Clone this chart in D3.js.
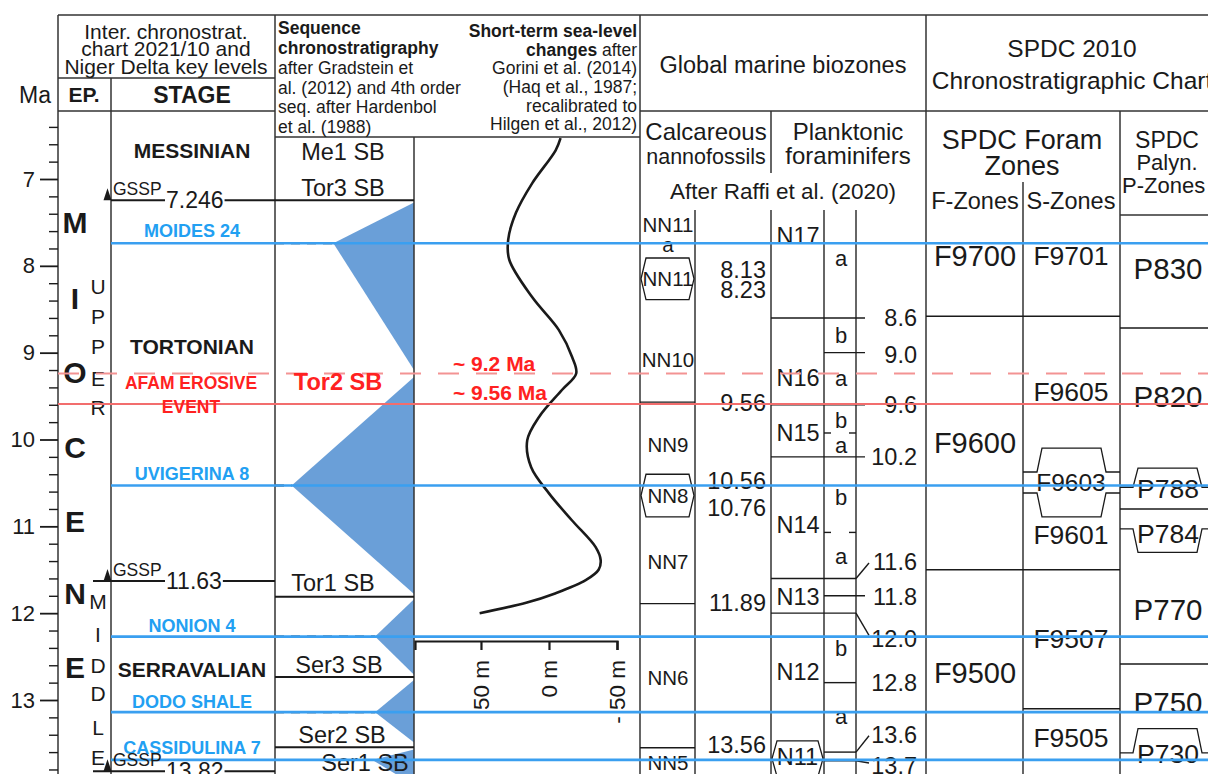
<!DOCTYPE html>
<html><head><meta charset="utf-8">
<script src="https://cdn.jsdelivr.net/npm/d3@7/dist/d3.min.js"></script>
<style>
html,body{margin:0;padding:0;background:#fff;}
svg{display:block;font-family:"Liberation Sans",Arial,Helvetica,sans-serif;}
</style></head><body>
<svg id="chart" width="1208" height="774"></svg>
<script>
// ================= DATA =================
const majorTicks = [7, 8, 9, 10, 11, 12, 13];
const minorTicks = [6.4, 6.6, 6.8, 7.2, 7.4, 7.6, 7.8, 8.2, 8.4, 8.6, 8.8, 9.2, 9.4, 9.6, 9.8,
  10.2, 10.4, 10.6, 10.8, 11.2, 11.4, 11.6, 11.8, 12.2, 12.4, 12.6, 12.8, 13.2, 13.4, 13.6, 13.8];

const epochLetters = [
  {t:"M", ma:7.50}, {t:"I", ma:8.38}, {t:"O", ma:9.23}, {t:"C", ma:10.09},
  {t:"E", ma:10.95}, {t:"N", ma:11.77}, {t:"E", ma:12.63}];
const subEpochLetters = [
  {t:"U", ma:8.245}, {t:"P", ma:8.59}, {t:"P", ma:8.935}, {t:"E", ma:9.30}, {t:"R", ma:9.63},
  {t:"M", ma:11.87}, {t:"I", ma:12.25}, {t:"D", ma:12.60}, {t:"D", ma:12.93}, {t:"L", ma:13.32}, {t:"E", ma:13.66}];
const stages = [{name:"MESSINIAN", ma:6.67}, {name:"TORTONIAN", ma:8.93}, {name:"SERRAVALIAN", ma:12.65}];
const gsspLevels = [
  {age:"7.246", ma:7.246, subEpoch:false, seqBoundary:true},
  {age:"11.63", ma:11.63, subEpoch:true, seqBoundary:false},
  {age:"13.82", ma:13.82, subEpoch:true, seqBoundary:false}];
const keyLevels = [
  {name:"MOIDES 24", ma:7.74, labelMa:7.60},
  {name:"UVIGERINA 8", ma:10.53, labelMa:10.39},
  {name:"NONION 4", ma:12.27, labelMa:12.14},
  {name:"DODO SHALE", ma:13.14, labelMa:13.02},
  {name:"CASSIDULINA 7", ma:13.69, labelMa:13.55}];
const erosiveDashedMa = 9.24;
const erosiveSolidMa = 9.59;
const erosiveLabels = [{t:"AFAM EROSIVE", ma:9.35}, {t:"EVENT", ma:9.63}];
const erosiveAges = [{t:"~ 9.2 Ma", ma:9.13}, {t:"~ 9.56 Ma", ma:9.46}];
const tor2Label = {t:"Tor2 SB", ma:9.33};

// sequence wedges: top / apex / bottom (Ma) and relative apex depth
const seqWedges = [
  {top:7.27, apex:7.74, bottom:9.20, depth:0.58},
  {top:9.28, apex:10.53, bottom:11.78, depth:0.88},
  {top:11.84, apex:12.27, bottom:12.71, depth:0.28},
  {top:12.77, apex:13.14, bottom:13.49, depth:0.28},
  {top:13.57, apex:13.69, bottom:13.98, depth:0.30}];
const seqBoundaries = [11.81, 12.735, 13.545];
const seqLabels = [
  {t:"Me1 SB", ma:6.69, dx:0}, {t:"Tor3 SB", ma:7.10, dx:0}, {t:"Tor1 SB", ma:11.65, dx:-10},
  {t:"Ser3 SB", ma:12.60, dx:-4}, {t:"Ser2 SB", ma:13.40, dx:-1}, {t:"Ser1 SB", ma:13.72, dx:22}];

// short-term sea level (Ma, metres)
const seaLevelMa = [6.53, 6.67, 7.05, 7.39, 7.70, 7.93, 8.36, 8.74, 9.05, 9.24, 9.43, 9.74, 10.01, 10.32, 10.62, 10.93, 11.24, 11.39, 11.50, 11.62, 11.77, 11.88, 12.0];
const seaLevelM  = [-8.5, -4.9, 12.4, 24.3, 30.0, 29.2, 12.4, -7.3, -17, -20, -9.5, 7.3, 16.0, 13.1, 0, -16.8, -34.3, -38, -36.5, -27, -5, 16.8, 51];
const seaTicks = [50, 0, -50];

// calcareous nannofossils
const nnLabels = [{t:"NN11", ma:7.53}, {t:"a", ma:7.76}, {t:"NN10", ma:9.08}, {t:"NN9", ma:10.06},
  {t:"NN7", ma:11.41}, {t:"NN6", ma:12.75}, {t:"NN5", ma:13.72}];
const nnHexes = [{t:"NN11", top:7.91, bottom:8.39}, {t:"NN8", top:10.40, bottom:10.89}];
const nnBoundaries = [9.57, 11.89, 13.55];
const nnAges = [{t:"8.13", ma:8.05}, {t:"8.23", ma:8.28}, {t:"9.56", ma:9.58}, {t:"10.56", ma:10.48},
  {t:"10.76", ma:10.79}, {t:"11.89", ma:11.88}, {t:"13.56", ma:13.52}];

// planktonic foraminifers
const pfZones = [{t:"N17", ma:7.65}, {t:"N16", ma:9.29}, {t:"N15", ma:9.925}, {t:"N14", ma:10.98},
  {t:"N13", ma:11.81}, {t:"N12", ma:12.68}];
const pfHexes = [{t:"N11", top:13.47, bottom:13.88}];
const pfSubZones = [{t:"a", ma:7.91}, {t:"b", ma:8.80}, {t:"a", ma:9.29}, {t:"b", ma:9.78}, {t:"a", ma:10.07},
  {t:"b", ma:10.66}, {t:"a", ma:11.35}, {t:"b", ma:12.40}, {t:"a", ma:13.19}];
const pfSubDashes = [9.925, 11.07];
const pfBoundaries = [
  {ma:8.6,  full:true,  label:"8.6",  labelMa:8.60, slant:false},
  {ma:9.0,  full:false, label:"9.0",  labelMa:9.03, slant:false},
  {ma:9.6,  full:true,  label:"9.6",  labelMa:9.60, slant:false},
  {ma:10.2, full:true,  label:"10.2", labelMa:10.20, slant:false},
  {ma:11.6, full:true,  label:"11.6", labelMa:11.41, slant:true},
  {ma:11.8, full:false, label:"11.8", labelMa:11.81, slant:false},
  {ma:12.0, full:true,  label:"12.0", labelMa:12.29, slant:true},
  {ma:12.8, full:false, label:"12.8", labelMa:12.80, slant:false},
  {ma:13.6, full:false, label:"13.6", labelMa:13.40, slant:true},
  {ma:13.7, full:false, label:"13.7", labelMa:13.76, slant:true}];

// SPDC 2010 zones
const fZones = [{t:"F9700", ma:7.88}, {t:"F9600", ma:10.04}, {t:"F9500", ma:12.69}];
const fBoundaries = [8.58, 11.50];
const sZones = [{t:"F9701", ma:7.88, big:true}, {t:"F9605", ma:9.45, big:true}, {t:"F9603", ma:10.49, big:false},
  {t:"F9601", ma:11.10, big:true}, {t:"F9507", ma:12.29, big:true}, {t:"F9505", ma:13.43, big:true}];
const sBoundaries = [13.10];
const sCaps = [{line:10.374, edge:10.10}, {line:10.616, edge:10.89}];
const pZones = [{t:"P830", ma:8.03, big:true}, {t:"P820", ma:9.51, big:true}, {t:"P788", ma:10.57, big:false},
  {t:"P784", ma:11.09, big:false}, {t:"P770", ma:11.96, big:true}, {t:"P750", ma:13.03, big:true},
  {t:"P730", ma:13.62, big:false}];
const pBoundaries = [8.716, 10.80, 12.585];
const pCaps = [{line:10.55, edge:10.33}, {line:11.03, edge:11.30}, {line:13.61, edge:13.33}];

// ================= LAYOUT =================
const C = {left:58, ep:111, subEp:93, seq:275, sea:414, bio:640, nnAge:695, pf:771, pfSub:824, pfVal:856,
  spdc:926, sZ:1023, pZ:1120, right:1215};
const TOP = 15, ROW1 = 78, HDR = 111, SEQHDR = 137, BIOTOP = 210, BOTTOM = 774, RIGHT = 1208;
const BLACK = "#1a1a1a", LINE = "#333";
const BLUE_LINE = "#3a9ff0", BLUE_TXT = "#22a0f2", RED = "#ff2121";

const svg = d3.select("#chart");
const y = d3.scaleLinear().domain([7, 13]).range([179, 700]);
const depthX = d3.scaleLinear().domain([0, 1]).range([C.sea, C.seq]);
const sx = d3.scaleLinear().domain([98.5, -50]).range([415, 617]);

const gWedge = svg.append("g"), gGrid = svg.append("g"), gZone = svg.append("g"),
      gText = svg.append("g"), gKey = svg.append("g"), gTop = svg.append("g");

function line(g, x1, y1, x2, y2, o = {}) {
  return g.append("line").attr("x1", x1).attr("y1", y1).attr("x2", x2).attr("y2", y2)
    .attr("stroke", o.stroke || LINE).attr("stroke-width", o.w || 1.4)
    .attr("stroke-dasharray", o.dash || null);
}
function text(g, x, yy, str, o = {}) {
  const t = g.append("text").attr("x", x).attr("y", yy).attr("dy", o.dy || "0.35em")
    .attr("text-anchor", o.anchor || "middle").attr("font-size", o.size || 20)
    .attr("font-weight", o.bold ? "bold" : "normal").attr("fill", o.fill || BLACK);
  if (str !== null) t.text(str);
  return t;
}
const poly = d3.line();
function hexPts(x0, x1, t, b, ins) { const m = (t + b) / 2; return [[x0+ins,t],[x1-ins,t],[x1,m],[x1-ins,b],[x0+ins,b],[x0,m]]; }
function capPts(x0, x1, ln, edge, i1, i2) { return [[x0,ln],[x0+i1,ln],[x0+i2,edge],[x1-i2,edge],[x1-i1,ln],[x1,ln]]; }

// ---------- wedges (sequence column) ----------
gWedge.selectAll("path").data(seqWedges).join("path")
  .attr("d", d => poly([[C.sea, y(d.top)], [depthX(d.depth), y(d.apex)], [C.sea, y(d.bottom)]]) + "Z")
  .attr("fill", "#6a9fd8");
gWedge.selectAll("line").data(seqWedges).join("line")
  .attr("x1", C.seq).attr("x2", d => depthX(d.depth)).attr("y1", d => y(d.apex)).attr("y2", d => y(d.apex))
  .attr("stroke", "#222").attr("stroke-width", 2).attr("stroke-dasharray", "9,7");

// ---------- frame / grid ----------
[[C.left, TOP, RIGHT, TOP], [C.left, TOP, C.left, BOTTOM], [C.left, ROW1, C.seq, ROW1], [C.left, HDR, C.seq, HDR],
 [C.ep, ROW1, C.ep, BOTTOM], [C.seq, TOP, C.seq, BOTTOM], [C.seq, SEQHDR, C.bio, SEQHDR], [C.sea, SEQHDR, C.sea, BOTTOM],
 [C.bio, TOP, C.bio, BOTTOM], [C.bio, HDR, RIGHT, HDR], [C.spdc, TOP, C.spdc, BOTTOM],
 [C.pf, HDR, C.pf, 173], [C.pf, BIOTOP, C.pf, BOTTOM], [C.nnAge, BIOTOP, C.nnAge, BOTTOM],
 [C.pfSub, BIOTOP, C.pfSub, BOTTOM], [C.pfVal, BIOTOP, C.pfVal, BOTTOM], [C.sZ, 182, C.sZ, BOTTOM],
 [C.pZ, HDR, C.pZ, BOTTOM], [C.pZ, 215, RIGHT, 215]
].forEach(a => line(gGrid, a[0], a[1], a[2], a[3], {w: 1.5}));

// ---------- Ma axis ----------
const axMaj = svg.append("g").attr("transform", `translate(${C.left},0)`)
  .call(d3.axisLeft(y).tickValues(majorTicks).tickSize(18).tickPadding(5).tickFormat(d3.format("d")));
axMaj.select(".domain").remove();
axMaj.selectAll("line").attr("stroke", BLACK).attr("stroke-width", 1.8);
axMaj.selectAll("text").attr("font-size", 22).attr("fill", BLACK);
axMaj.attr("font-family", null);
const axMin = svg.append("g").attr("transform", `translate(${C.left},0)`)
  .call(d3.axisLeft(y).tickValues(minorTicks).tickSize(9).tickFormat(""));
axMin.select(".domain").remove();
axMin.selectAll("line").attr("stroke", BLACK).attr("stroke-width", 1.4);

// ---------- headers ----------
["Inter. chronostrat.", "chart 2021/10 and", "Niger Delta key levels"].forEach((s, i) =>
  text(gText, 166, 31.5 + i * 17.5, s, {size: 21}));
text(gText, 35, 95, "Ma", {size: 23});
text(gText, 84, 95, "EP.", {size: 21, bold: true});
text(gText, 192, 95, "STAGE", {size: 23, bold: true});

const seqHdr = [["Sequence", true], ["chronostratigraphy", true], ["after Gradstein et", false],
  ["al. (2012) and 4th order", false], ["seq. after Hardenbol", false], ["et al. (1988)", false]];
const seqHdrY = [28, 48, 68, 88, 107, 127];
seqHdr.forEach((d, i) => text(gText, 278, seqHdrY[i], d[0], {size: 17.5, bold: d[1], anchor: "start"}));
const seaHdrY = [31, 50, 68, 87, 106, 124];
text(gText, 637, seaHdrY[0], "Short-term sea-level", {size: 17.5, bold: true, anchor: "end"});
const ch = text(gText, 637, seaHdrY[1], null, {size: 17.5, anchor: "end"});
ch.append("tspan").attr("font-weight", "bold").text("changes");
ch.append("tspan").text(" after");
["Gorini et al. (2014)", "(Haq et al., 1987;", "recalibrated to", "Hilgen et al., 2012)"].forEach((s, i) =>
  text(gText, 637, seaHdrY[i + 2], s, {size: 17.5, anchor: "end"}));

text(gText, 783, 65, "Global marine biozones", {size: 23.5});
text(gText, 1072, 48, "SPDC 2010", {size: 24.5});
text(gText, 1072, 80, "Chronostratigraphic Chart", {size: 24.5});
text(gText, 706, 132, "Calcareous", {size: 24});
text(gText, 706, 156, "nannofossils", {size: 21.5});
text(gText, 848, 132, "Planktonic", {size: 24});
text(gText, 848, 156, "foraminifers", {size: 24});
text(gText, 783, 191, "After Raffi et al. (2020)", {size: 22.5});
text(gText, 1022, 140, "SPDC Foram", {size: 27});
text(gText, 1022, 166, "Zones", {size: 27});
text(gText, 975, 201, "F-Zones", {size: 23.5});
text(gText, 1071, 201, "S-Zones", {size: 23.5});
text(gText, 1167, 140, "SPDC", {size: 23});
text(gText, 1167, 162, "Palyn.", {size: 22});
text(gText, 1122, 185, "P-Zones", {size: 22, anchor: "start"});

// ---------- epoch / stage ----------
gText.selectAll(".ep").data(epochLetters).join("text").attr("class", "ep")
  .attr("x", 75).attr("y", d => y(d.ma)).attr("dy", "0.35em").attr("text-anchor", "middle")
  .attr("font-size", 30).attr("font-weight", "bold").attr("fill", BLACK).text(d => d.t);
gText.selectAll(".sep").data(subEpochLetters).join("text").attr("class", "sep")
  .attr("x", 98).attr("y", d => y(d.ma)).attr("dy", "0.35em").attr("text-anchor", "middle")
  .attr("font-size", 21).attr("fill", BLACK).text(d => d.t);
stages.forEach(d => text(gText, 192, y(d.ma), d.name, {size: 21, bold: true}));

// ---------- sequence labels & boundaries ----------
seqBoundaries.forEach(m => line(gZone, C.seq, y(m), C.sea, y(m), {stroke: BLACK, w: 2}));
seqLabels.forEach(d => text(gText, 343 + d.dx, y(d.ma), d.t, {size: 23.5}));

// ---------- sea level ----------
const seaPts = seaLevelMa.map((m, i) => [sx(seaLevelM[i]), y(m)]);
gZone.append("path").attr("d", d3.line().curve(d3.curveCatmullRom.alpha(0.5))(seaPts))
  .attr("fill", "none").attr("stroke", BLACK).attr("stroke-width", 2.6);
const seaAx = gZone.append("g").attr("transform", "translate(0,641)")
  .call(d3.axisBottom(sx).tickValues(seaTicks).tickSize(9).tickSizeOuter(9)
    .tickFormat(d => d < 0 ? "- " + Math.abs(d) + " m" : d + " m"));
seaAx.attr("font-family", null);
seaAx.select(".domain").attr("stroke", BLACK).attr("stroke-width", 2.2);
seaAx.selectAll("line").attr("stroke", BLACK).attr("stroke-width", 2.2);
seaAx.selectAll("text").attr("transform", "rotate(-90)").attr("x", -19).attr("y", 0).attr("dy", "0.35em")
  .attr("text-anchor", "end").attr("font-size", 22.5).attr("fill", BLACK);

// ---------- nannofossils ----------
const NNC = (C.bio + C.nnAge) / 2 + 0.5;
nnBoundaries.forEach(m => line(gZone, C.bio, y(m), C.nnAge, y(m), {stroke: BLACK}));
nnHexes.forEach(d => {
  gZone.append("path").attr("d", poly(hexPts(C.bio + 1, C.nnAge - 1, y(d.top), y(d.bottom), 5)) + "Z")
    .attr("fill", "#fff").attr("stroke", BLACK).attr("stroke-width", 1.3);
  text(gText, NNC, (y(d.top) + y(d.bottom)) / 2, d.t, {size: 20.5});
});
nnLabels.forEach(d => text(gText, NNC, y(d.ma), d.t, {size: 20.5}));
nnAges.forEach(d => text(gText, 766, y(d.ma), d.t, {size: 23.5, anchor: "end"}));

// ---------- planktonic forams ----------
pfBoundaries.forEach(d => {
  const yy = y(d.ma), x0 = d.full ? C.pf : C.pfSub;
  if (d.slant) {
    line(gZone, x0, yy, C.pfVal, yy, {stroke: BLACK});
    const ly = y(d.labelMa) + (d.labelMa < d.ma ? 1 : -3);
    line(gZone, C.pfVal, yy, 869, ly, {stroke: BLACK});
  } else {
    line(gZone, x0, yy, d.ma === 12.8 ? C.pfVal : 865, yy, {stroke: BLACK});
  }
  text(gText, 917, y(d.labelMa), d.label, {size: 23.5, anchor: "end"});
});
pfSubDashes.forEach(m => {
  line(gZone, C.pfSub, y(m), C.pfSub + 7, y(m), {stroke: BLACK});
  line(gZone, C.pfVal - 7, y(m), C.pfVal, y(m), {stroke: BLACK});
});
pfHexes.forEach(d => {
  gZone.append("path").attr("d", poly(hexPts(C.pf + 1, C.pfSub - 1, y(d.top), y(d.bottom), 5)) + "Z")
    .attr("fill", "#fff").attr("stroke", BLACK).attr("stroke-width", 1.3);
  text(gText, (C.pf + C.pfSub) / 2, (y(d.top) + y(d.bottom)) / 2 - 2, d.t, {size: 23.5});
});
pfZones.forEach(d => text(gText, (C.pf + C.pfSub) / 2 + 0.5, y(d.ma), d.t, {size: 23.5}));
pfSubZones.forEach(d => text(gText, 841, y(d.ma), d.t, {size: 22}));

// ---------- SPDC ----------
fBoundaries.forEach(m => line(gZone, C.spdc, y(m), C.pZ, y(m), {stroke: BLACK}));
sBoundaries.forEach(m => line(gZone, C.sZ, y(m), C.pZ, y(m), {stroke: BLACK}));
pBoundaries.forEach(m => line(gZone, C.pZ, y(m), C.right, y(m), {stroke: BLACK}));
sCaps.forEach(d => gZone.append("path").attr("d", poly(capPts(C.sZ, C.pZ, y(d.line), y(d.edge), 14, 19)))
  .attr("fill", "none").attr("stroke", BLACK).attr("stroke-width", 1.3));
pCaps.forEach(d => gZone.append("path").attr("d", poly(capPts(C.pZ, C.right, y(d.line), y(d.edge), 13, 18)))
  .attr("fill", "none").attr("stroke", BLACK).attr("stroke-width", 1.3));
fZones.forEach(d => text(gText, 975, y(d.ma), d.t, {size: 29}));
sZones.forEach(d => text(gText, 1071, y(d.ma), d.t, {size: d.big ? 26.5 : 24.5}));
pZones.forEach(d => text(gText, 1168, y(d.ma), d.t, {size: d.big ? 29.5 : 26.5}));

// ---------- key levels (blue) ----------
keyLevels.forEach(d => {
  line(gKey, C.ep, y(d.ma), RIGHT, y(d.ma), {stroke: BLUE_LINE, w: 2.6});
  text(gText, 192, y(d.labelMa), d.name, {size: 18, bold: true, fill: BLUE_TXT});
});

// ---------- Afam erosive event (red) ----------
line(gKey, C.left, y(erosiveDashedMa), RIGHT, y(erosiveDashedMa), {stroke: "#f39393", w: 2.2, dash: "21,17"});
line(gKey, C.left, y(erosiveSolidMa), RIGHT, y(erosiveSolidMa), {stroke: "#f26d6d", w: 2});
erosiveLabels.forEach(d => text(gTop, 191, y(d.ma), d.t, {size: 17.5, bold: true, fill: RED}));
erosiveAges.forEach(d => text(gTop, 453, y(d.ma), d.t, {size: 21, bold: true, fill: RED, anchor: "start"}));
text(gTop, 338, y(tor2Label.ma), tor2Label.t, {size: 23.5, bold: true, fill: RED});

// ---------- GSSP stage boundaries ----------
gsspLevels.forEach(d => {
  const yy = y(d.ma);
  const x0 = d.subEpoch ? C.subEp : C.ep, x1 = d.seqBoundary ? C.sea : C.seq;
  const num = text(gTop, 166, yy, d.age, {size: 23, anchor: "start"});
  const w = num.node().getComputedTextLength();
  line(gTop, x0, yy, 165, yy, {stroke: BLACK, w: 2});
  line(gTop, 166 + w + 1, yy, x1, yy, {stroke: BLACK, w: 2});
  gTop.append("path").attr("d", poly([[103.5, yy], [111.5, yy], [107.5, yy - 12]]) + "Z").attr("fill", BLACK);
  text(gTop, 113, yy - 11, "GSSP", {size: 17.5, anchor: "start"});
});
</script>
</body></html>
